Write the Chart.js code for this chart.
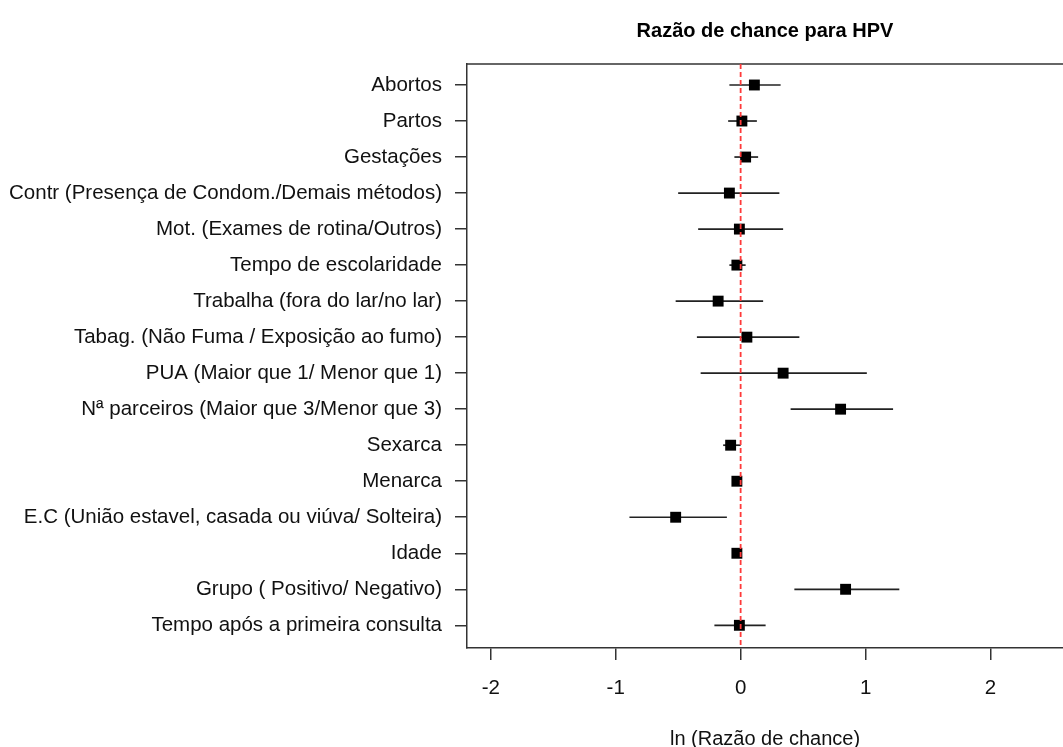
<!DOCTYPE html>
<html>
<head>
<meta charset="utf-8">
<script src="https://cdn.jsdelivr.net/npm/chart.js@4"></script>
<style>
  body { margin: 0; background: #fff; }
</style>
</head>
<body>
<canvas id="myChart" width="1063" height="747"></canvas>
<script>
const labels = [
    'Abortos',
    'Partos',
    'Gestações',
    'Contr (Presença de Condom./Demais métodos)',
    'Mot. (Exames de rotina/Outros)',
    'Tempo de escolaridade',
    'Trabalha (fora do lar/no lar)',
    'Tabag. (Não Fuma / Exposição ao fumo)',
    'PUA (Maior que 1/ Menor que 1)',
    'Nª parceiros (Maior que 3/Menor que 3)',
    'Sexarca',
    'Menarca',
    'E.C (União estavel, casada ou viúva/ Solteira)',
    'Idade',
    'Grupo ( Positivo/ Negativo)',
    'Tempo após a primeira consulta'
];
// ln(odds ratio) with confidence limits
const estimate = [0.11, 0.01, 0.04, -0.09, -0.01, -0.03, -0.18, 0.05, 0.34, 0.80, -0.08, -0.03, -0.52, -0.03, 0.84, -0.01];
const lower    = [-0.09, -0.10, -0.05, -0.50, -0.34, -0.09, -0.52, -0.35, -0.32, 0.40, -0.14, -0.04, -0.89, -0.04, 0.43, -0.21];
const upper    = [0.32, 0.13, 0.14, 0.31, 0.34, 0.04, 0.18, 0.47, 1.01, 1.22, 0.00, -0.01, -0.11, -0.02, 1.27, 0.20];
const xTicks = [-2, -1, 0, 1, 2];

const font = 'Liberation Sans, Arial, sans-serif';
const axisColor = '#333';

// error bars under the squares, dashed line at zero over them
const forestPlugin = {
    id: 'forest',
    beforeDatasetsDraw(chart) {
        const {ctx, scales: {x, y}} = chart;
        ctx.save();
        ctx.strokeStyle = '#222';
        ctx.lineWidth = 1.7;
        lower.forEach((lo, i) => {
            const py = y.getPixelForValue(i + 1);
            ctx.beginPath();
            ctx.moveTo(x.getPixelForValue(lo), py);
            ctx.lineTo(x.getPixelForValue(upper[i]), py);
            ctx.stroke();
        });
        // top side of the box
        ctx.strokeStyle = axisColor;
        ctx.lineWidth = 1.5;
        ctx.beginPath();
        ctx.moveTo(chart.chartArea.left, chart.chartArea.top);
        ctx.lineTo(chart.chartArea.right, chart.chartArea.top);
        ctx.stroke();
        ctx.restore();
    },
    afterDatasetsDraw(chart) {
        const {ctx, chartArea, scales: {x}} = chart;
        const px = x.getPixelForValue(0);
        ctx.save();
        ctx.strokeStyle = '#ff3a3a';
        ctx.lineWidth = 1.8;
        ctx.setLineDash([5, 3]);
        ctx.beginPath();
        ctx.moveTo(px, chartArea.top);
        ctx.lineTo(px, chartArea.bottom);
        ctx.stroke();
        ctx.restore();
    }
};

const ctx = document.getElementById('myChart').getContext('2d');

new Chart(ctx, {
    type: 'scatter',
    data: {
        datasets: [{
            data: estimate.map((v, i) => ({x: v, y: i + 1})),
            pointStyle: 'rect',
            pointRadius: 7.7,
            pointHoverRadius: 7.7,
            backgroundColor: '#000',
            borderColor: '#000',
            borderWidth: 0
        }]
    },
    options: {
        responsive: false,
        animation: false,
        layout: { autoPadding: false, padding: 0 },
        plugins: {
            legend: { display: false },
            tooltip: { enabled: false },
            title: {
                display: true,
                text: 'Razão de chance para HPV',
                fullSize: false,
                color: '#000',
                font: { family: font, size: 20, weight: 'bold' },
                padding: { top: 19, bottom: 21 }
            }
        },
        scales: {
            x: {
                type: 'linear',
                min: -2.19,
                max: 2.58,
                afterBuildTicks: s => { s.ticks = xTicks.map(v => ({value: v})); },
                afterFit: s => { s.height = 99; },
                grid: { drawOnChartArea: false, tickLength: 12, color: axisColor, lineWidth: 1.5 },
                border: { color: axisColor, width: 1.5 },
                ticks: {
                    color: '#111',
                    padding: 16,
                    font: { family: font, size: 20.5 }
                },
                title: {
                    display: true,
                    text: 'ln (Razão de chance)',
                    color: '#111',
                    font: { family: font, size: 20 },
                    padding: { top: 0, bottom: -4 }
                }
            },
            y: {
                type: 'linear',
                reverse: true,
                min: 0.417,
                max: 16.63,
                afterBuildTicks: s => { s.ticks = labels.map((l, i) => ({value: i + 1})); },
                afterFit: s => { s.width = 467; },
                grid: { drawOnChartArea: false, tickLength: 12, color: axisColor, lineWidth: 1.5 },
                border: { color: axisColor, width: 1.5 },
                ticks: {
                    color: '#111',
                    padding: 13,
                    autoSkip: false,
                    font: { family: font, size: 20.5 },
                    callback: v => labels[v - 1]
                }
            }
        }
    },
    plugins: [forestPlugin]
});
</script>
</body>
</html>
